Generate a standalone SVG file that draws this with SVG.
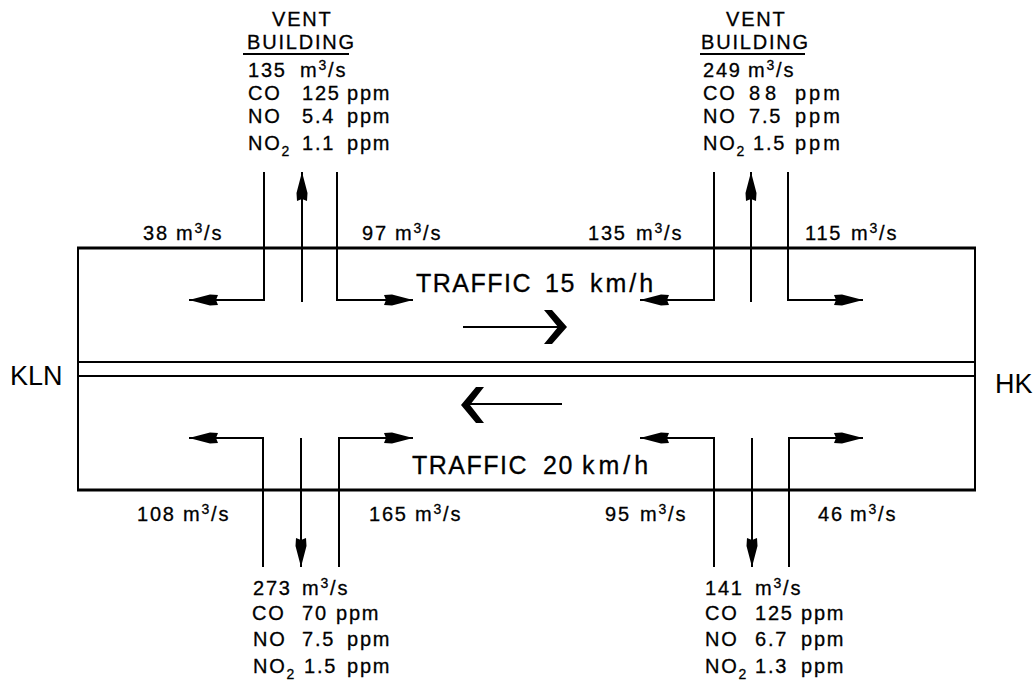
<svg xmlns="http://www.w3.org/2000/svg" width="1034" height="684" viewBox="0 0 1034 684">
<defs>
<style>
.t{font-family:"Liberation Sans",Arial,sans-serif;font-size:20px;fill:#000;stroke:#000;stroke-width:0.3px;letter-spacing:1.8px}
.big{font-family:"Liberation Sans",Arial,sans-serif;font-size:25px;fill:#000;stroke:#000;stroke-width:0.3px;letter-spacing:1.5px}
.end{font-family:"Liberation Sans",Arial,sans-serif;font-size:27px;fill:#000}
.sup{font-size:14px}
.ln{stroke:#000;stroke-width:2;fill:none}
.wall{stroke:#000;stroke-width:3;fill:none}
.side{stroke:#000;stroke-width:2;fill:none}
.ar{stroke:#000;stroke-width:2;fill:none;marker-end:url(#ah)}
</style>
<marker id="ah" markerUnits="userSpaceOnUse" markerWidth="32" markerHeight="12" refX="29" refY="6" orient="auto">
<path d="M0,1 L8,0.5 L29,6 L8,11.5 L0,11 L2,6 Z" fill="#000"/>
</marker>
</defs>
<rect width="1034" height="684" fill="#fff"/>

<g id="tunnel">
<line class="wall" x1="77" y1="248" x2="976" y2="248"/>
<line class="wall" x1="77" y1="490" x2="976" y2="490"/>
<line class="side" x1="78" y1="248" x2="78" y2="490"/>
<line class="side" x1="975" y1="248" x2="975" y2="490"/>
<line class="side" x1="78" y1="362" x2="975" y2="362"/>
<line class="side" x1="78" y1="376" x2="975" y2="376"/>
<text class="end" x="10" y="385">KLN</text>
<text class="end" x="995" y="393">HK</text>
</g>

<g id="traffic-east">
<text class="big" y="292"><tspan x="416">TRAFFIC</tspan><tspan x="545">15</tspan><tspan x="590" style="letter-spacing:3px">km/h</tspan></text>
<line class="ln" x1="463" y1="327" x2="560" y2="327"/>
<polygon points="567,327 552,310 544,310 558,327 544,344 552,344" fill="#000"/>
</g>

<g id="traffic-west">
<text class="big" y="474"><tspan x="412">TRAFFIC</tspan><tspan x="543">20</tspan><tspan x="582" style="letter-spacing:4px">km/h</tspan></text>
<line class="ln" x1="466" y1="404" x2="562" y2="404"/>
<polygon points="461,405 476,387 484,387 470,405 484,423 476,423" fill="#000"/>
</g>

<g id="vent-top-left">
<text class="t" y="26"><tspan x="272">VENT</tspan></text>
<text class="t" y="49"><tspan x="247">BUILDING</tspan></text>
<line class="ln" x1="243" y1="54" x2="349" y2="54"/>
<text class="t" y="77"><tspan x="248">135</tspan><tspan x="300">m</tspan><tspan class="sup" dy="-7">3</tspan><tspan dy="7">/s</tspan></text>
<text class="t" y="100"><tspan x="248">CO</tspan><tspan x="302">125</tspan><tspan x="347">ppm</tspan></text>
<text class="t" y="123"><tspan x="248">NO</tspan><tspan x="302">5.4</tspan><tspan x="347">ppm</tspan></text>
<text class="t" y="150"><tspan x="248">NO</tspan><tspan class="sup" dy="6">2</tspan><tspan x="302" dy="-6">1.1</tspan><tspan x="347">ppm</tspan></text>
</g>

<g id="vent-top-right">
<text class="t" y="26"><tspan x="726">VENT</tspan></text>
<text class="t" y="49"><tspan x="701">BUILDING</tspan></text>
<line class="ln" x1="700" y1="54" x2="805" y2="54"/>
<text class="t" y="77"><tspan x="703">249</tspan><tspan x="748">m</tspan><tspan class="sup" dy="-7">3</tspan><tspan dy="7">/s</tspan></text>
<text class="t" y="100"><tspan x="703">CO</tspan><tspan x="749" style="letter-spacing:5px">88</tspan><tspan x="795" style="letter-spacing:3px">ppm</tspan></text>
<text class="t" y="123"><tspan x="703">NO</tspan><tspan x="749">7.5</tspan><tspan x="795" style="letter-spacing:3px">ppm</tspan></text>
<text class="t" y="150"><tspan x="703">NO</tspan><tspan class="sup" dy="6">2</tspan><tspan x="753" dy="-6">1.5</tspan><tspan x="795" style="letter-spacing:3px">ppm</tspan></text>
</g>

<g id="vent-bottom-left">
<text class="t" y="595"><tspan x="253">273</tspan><tspan x="302">m</tspan><tspan class="sup" dy="-7">3</tspan><tspan dy="7">/s</tspan></text>
<text class="t" y="620"><tspan x="252">CO</tspan><tspan x="302">70</tspan><tspan x="336">ppm</tspan></text>
<text class="t" y="646"><tspan x="253">NO</tspan><tspan x="302">7.5</tspan><tspan x="347">ppm</tspan></text>
<text class="t" y="673"><tspan x="253">NO</tspan><tspan class="sup" dy="6">2</tspan><tspan x="304" dy="-6">1.5</tspan><tspan x="347">ppm</tspan></text>
</g>

<g id="vent-bottom-right">
<text class="t" y="595"><tspan x="705">141</tspan><tspan x="755">m</tspan><tspan class="sup" dy="-7">3</tspan><tspan dy="7">/s</tspan></text>
<text class="t" y="620"><tspan x="705">CO</tspan><tspan x="755">125</tspan><tspan x="801">ppm</tspan></text>
<text class="t" y="646"><tspan x="705">NO</tspan><tspan x="755">6.7</tspan><tspan x="801">ppm</tspan></text>
<text class="t" y="673"><tspan x="705">NO</tspan><tspan class="sup" dy="6">2</tspan><tspan x="755" dy="-6">1.3</tspan><tspan x="801">ppm</tspan></text>
</g>

<g id="flow-labels">
<text class="t" y="240"><tspan x="143">38</tspan><tspan x="176">m</tspan><tspan class="sup" dy="-7">3</tspan><tspan dy="7">/s</tspan></text>
<text class="t" y="240"><tspan x="362">97</tspan><tspan x="395">m</tspan><tspan class="sup" dy="-7">3</tspan><tspan dy="7">/s</tspan></text>
<text class="t" y="240"><tspan x="588">135</tspan><tspan x="636">m</tspan><tspan class="sup" dy="-7">3</tspan><tspan dy="7">/s</tspan></text>
<text class="t" y="240"><tspan x="805">115</tspan><tspan x="851">m</tspan><tspan class="sup" dy="-7">3</tspan><tspan dy="7">/s</tspan></text>
<text class="t" y="521"><tspan x="137">108</tspan><tspan x="183">m</tspan><tspan class="sup" dy="-7">3</tspan><tspan dy="7">/s</tspan></text>
<text class="t" y="521"><tspan x="369">165</tspan><tspan x="415">m</tspan><tspan class="sup" dy="-7">3</tspan><tspan dy="7">/s</tspan></text>
<text class="t" y="521"><tspan x="605">95</tspan><tspan x="640">m</tspan><tspan class="sup" dy="-7">3</tspan><tspan dy="7">/s</tspan></text>
<text class="t" y="521"><tspan x="818">46</tspan><tspan x="850">m</tspan><tspan class="sup" dy="-7">3</tspan><tspan dy="7">/s</tspan></text>
</g>

<g id="connectors">
<polyline class="ar" points="264,172 264,300 189,300"/>
<line class="ar" x1="302" y1="302" x2="302" y2="172"/>
<polyline class="ar" points="337,172 337,300 413,300"/>
<polyline class="ar" points="714,172 714,300 640,300"/>
<line class="ar" x1="751" y1="302" x2="751" y2="172"/>
<polyline class="ar" points="788,172 788,300 863,300"/>
<polyline class="ar" points="263,567 263,438 189,438"/>
<line class="ar" x1="301" y1="438" x2="301" y2="567"/>
<polyline class="ar" points="339,567 339,438 413,438"/>
<polyline class="ar" points="714,567 714,438 640,438"/>
<line class="ar" x1="752" y1="438" x2="752" y2="567"/>
<polyline class="ar" points="789,567 789,438 863,438"/>
</g>
</svg>
